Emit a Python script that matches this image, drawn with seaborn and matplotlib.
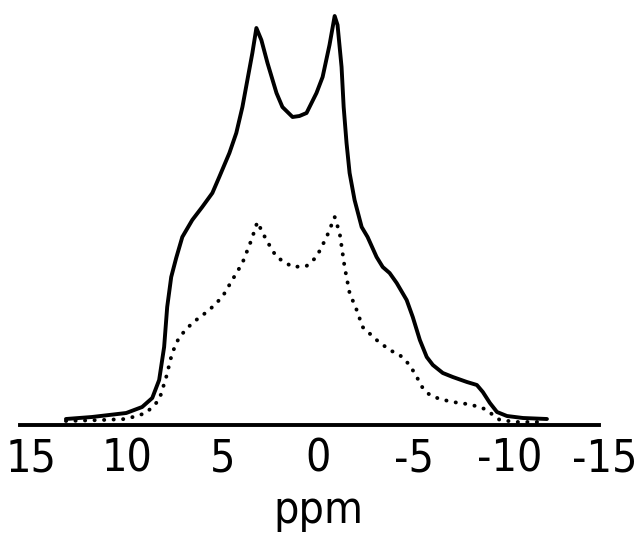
import matplotlib
matplotlib.use("Agg")
import matplotlib.pyplot as plt
import matplotlib.transforms as mtransforms
import seaborn as sns
import pandas as pd

# solid spectrum (ppm, intensity)
solid_ppm = [12.70, 11.34, 9.55, 8.72, 8.19, 7.83, 7.57, 7.41, 7.20, 6.94,
             6.62, 6.10, 5.58, 5.05, 4.69, 4.16, 3.80, 3.48, 3.22, 2.96,
             2.75, 2.49, 2.17, 1.70, 1.39, 0.86, 0.50, 0.13, -0.39, -0.71,
             -1.07, -1.34, -1.49, -1.70, -1.81, -1.96, -2.12, -2.38, -2.75, -3.06,
             -3.53, -3.85, -4.21, -4.58, -5.10, -5.42, -5.79, -6.15, -6.47, -6.99,
             -7.51, -8.25, -8.77, -9.08, -9.45, -9.82, -10.34, -11.18, -12.43]
solid_int = [6, 8, 12, 18, 27, 45, 78, 118, 148, 167,
             188, 205, 218, 232, 248, 272, 292, 318, 345, 372,
             397, 385, 362, 332, 318, 308, 309, 312, 332, 348,
             380, 409, 400, 358, 318, 282, 252, 225, 198, 188,
             168, 158, 152, 142, 125, 108, 85, 68, 60, 52,
             48, 43, 40, 33, 22, 13, 9, 7, 6]

# dotted spectrum
dot_ppm = [12.70, 10.81, 9.55, 8.51, 7.83, 7.46, 7.15, 6.78, 6.10, 5.21,
           4.53, 4.01, 3.48, 3.01, 2.70, 2.23, 1.70, 0.86, 0.13, -0.39,
           -0.92, -1.34, -1.60, -1.86, -2.12, -2.49, -2.80, -3.53, -4.21, -4.74,
           -5.26, -5.63, -5.94, -6.31, -6.83, -7.51, -8.25, -8.93, -9.29, -9.61,
           -9.97, -10.86, -12.22]
dot_int = [4, 5, 6, 12, 25, 48, 72, 88, 102, 115,
           128, 145, 162, 185, 203, 185, 168, 158, 159, 168,
           188, 208, 192, 158, 132, 115, 98, 85, 75, 70,
           60, 48, 37, 30, 26, 23, 21, 18, 15, 10,
           5, 3, 3]

tick_vals = [15, 10, 5, 0, -5, -10, -15]
tick_labels = ["15", "10", "5", "0", "-5", "-10", "-15"]

solid_df = pd.DataFrame({"ppm": solid_ppm, "intensity": solid_int})
dot_df = pd.DataFrame({"ppm": dot_ppm, "intensity": dot_int})

sns.set_style("white")
plt.rcParams['font.family'] = ['DejaVu Sans']
plt.rcParams['font.stretch'] = 'condensed'
plt.rcParams['text.color'] = 'black'

fig = plt.figure(figsize=(6.42, 5.34), dpi=100)
ax = fig.add_axes([20 / 642, 109 / 534, 579 / 642, 425 / 534])

sns.lineplot(data=solid_df, x="ppm", y="intensity", sort=False, ax=ax,
             color="black", linewidth=2.8)
sns.lineplot(data=dot_df, x="ppm", y="intensity", sort=False, ax=ax,
             color="black", linewidth=2.8, linestyle=(0, (0.05, 2.4)),
             dash_capstyle="round")

ax.set_xlim(15.1, -15.15)
ax.set_ylim(0, 425)

for s in ["left", "top", "right"]:
    ax.spines[s].set_visible(False)
ax.spines["bottom"].set_linewidth(2.8)
ax.spines["bottom"].set_color("black")

ax.set_yticks([])
ax.set_xticks(tick_vals)
ax.set_xticklabels(tick_labels)
ax.tick_params(axis="x", direction="in", length=5, width=2, colors="black",
               labelsize=32, pad=9)
ticks = ax.xaxis.get_major_ticks()
ticks[0].tick1line.set_visible(False)
ticks[-1].tick1line.set_visible(False)

# labels in the scan sit a little right of their ticks
shift = mtransforms.ScaledTranslation(0.09, 0, fig.dpi_scale_trans)
for lab in ax.get_xticklabels():
    lab.set_transform(lab.get_transform() + shift)

ax.set_xlabel("ppm", fontsize=32, labelpad=6, color="black")
ax.xaxis.label.set_transform(ax.xaxis.label.get_transform() + shift)
ax.set_ylabel("")

fig.savefig("out.png", dpi=100)
